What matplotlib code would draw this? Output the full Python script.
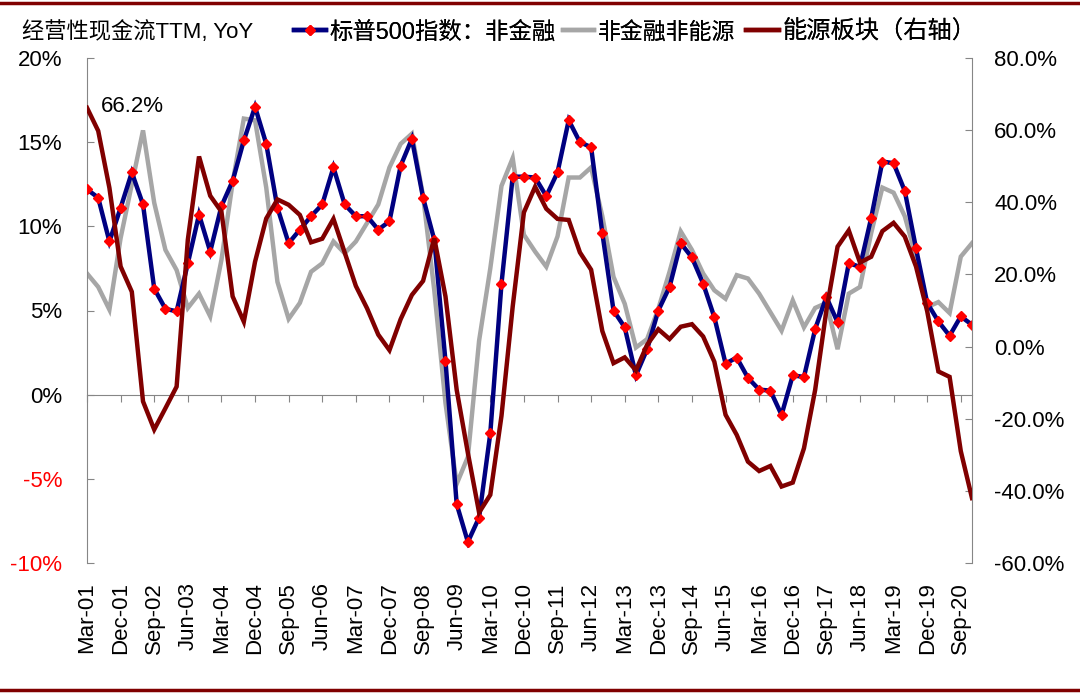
import matplotlib
matplotlib.use('Agg')
import matplotlib.pyplot as plt
from matplotlib.lines import Line2D
from matplotlib.ticker import FuncFormatter

plt.rcParams['font.family'] = ['Liberation Sans', 'Noto Sans CJK SC', 'DejaVu Sans']

# ---------------- data ----------------
tick_labels = ['Mar-01', 'Dec-01', 'Sep-02', 'Jun-03', 'Mar-04', 'Dec-04', 'Sep-05',
               'Jun-06', 'Mar-07', 'Dec-07', 'Sep-08', 'Jun-09', 'Mar-10', 'Dec-10',
               'Sep-11', 'Jun-12', 'Mar-13', 'Dec-13', 'Sep-14', 'Jun-15', 'Mar-16',
               'Dec-16', 'Sep-17', 'Jun-18', 'Mar-19', 'Dec-19', 'Sep-20']

sp500_nonfin = [12.2, 11.7, 9.1, 11.1, 13.2, 11.3, 6.3, 5.1, 4.95, 7.8, 10.7, 8.5, 11.2, 12.7, 15.1, 17.1, 14.9,
                11.1, 9.0, 9.8, 10.6, 11.3, 13.5, 11.3, 10.6, 10.6, 9.8, 10.3, 13.6, 15.2, 11.7, 9.2,
                2.0, -6.5, -8.75, -7.3, -2.3, 6.6, 12.95, 12.95, 12.9, 11.8, 13.2, 16.3, 15.0, 14.7, 9.6, 5.0, 4.0,
                1.15, 2.7, 5.0, 6.4, 9.0, 8.15, 6.6, 4.6, 1.85, 2.2, 1.0, 0.3, 0.24, -1.2, 1.15, 1.05,
                3.9, 5.8, 4.3, 7.8, 7.6, 10.5, 13.85, 13.75, 12.1, 8.7, 5.45, 4.35, 3.5, 4.65, 4.15]

nonfin_nonenergy = [7.2, 6.4, 5.05, 9.3, 12.5, 15.7, 11.4, 8.6, 7.4, 5.15, 6.0, 4.65, 8.0, 12.6, 16.4, 16.3, 12.3,
                    6.7, 4.5, 5.45, 7.3, 7.8, 9.1, 8.4, 9.1, 10.2, 11.3, 13.5, 14.9, 15.5, 11.8, 6.2,
                    -0.5, -5.3, -3.7, 3.2, 7.5, 12.4, 14.05, 9.5, 8.5, 7.6, 9.4, 12.9, 12.9, 13.5, 10.6, 7.0, 5.4,
                    2.8, 3.3, 5.1, 7.3, 9.7, 8.6, 7.2, 6.2, 5.7, 7.1, 6.9, 6.0, 4.9, 3.8, 5.6, 4.0,
                    5.15, 5.45, 2.7, 6.0, 6.4, 9.6, 12.3, 12.0, 10.6, 8.2, 5.2, 5.5, 4.85, 8.2, 9.0]

energy = [66.2, 59.8, 44.0, 22.2, 15.2, -15.2, -23.0, -17.1, -11.1, 29.6, 52.7, 41.8, 37.4, 13.9, 6.9, 23.5, 35.5,
          40.8, 39.3, 36.5, 28.9, 29.9, 35.4, 26.1, 16.8, 10.6, 3.3, -1.0, 7.6, 14.3, 18.2, 30.0,
          13.9, -12.0, -29.5, -46.0, -41.1, -19.2, 11.1, 37.2, 44.3, 38.2, 35.4, 35.1, 26.1, 21.3, 4.3, -4.6, -3.0,
          -6.6, 0.5, 4.8, 2.1, 5.5, 6.2, 2.8, -4.2, -18.9, -24.5, -31.9, -34.5, -33.1, -38.8, -37.7, -28.2,
          -12.0, 10.0, 27.7, 32.2, 23.3, 24.9, 32.0, 34.3, 30.5, 22.2, 9.8, -6.9, -8.4, -29.0, -42.0]

label_title = '经营性现金流TTM, YoY'
series_names = ['标普500指数：非金融', '非金融非能源', '能源板块（右轴）']
annot_text = '66.2%'

# ---------------- style ----------------
NAVY = '#000080'
GREY = '#A6A6A6'
DARKRED = '#800000'
AXGREY = '#868686'
FS = 16

x = list(range(len(sp500_nonfin)))
tick_pos = [3 * k for k in range(len(tick_labels))]

fig = plt.figure(figsize=(10.8, 6.97), dpi=100)
ax = fig.add_axes([87 / 1080, 1 - 563 / 697, (972 - 87) / 1080, (563 - 58) / 697])

ax.plot(x, nonfin_nonenergy, color=GREY, lw=3.2, zorder=2, solid_joinstyle='miter')
ax.plot(x, sp500_nonfin, color=NAVY, lw=3.2, zorder=3, marker='D', markersize=5.5,
        markerfacecolor='red', markeredgecolor='red', solid_joinstyle='miter')

ax.set_xlim(0, len(x) - 1)
ax.set_ylim(-10, 20)
ax.set_yticks([-10, -5, 0, 5, 10, 15, 20])
ax.yaxis.set_major_formatter(FuncFormatter(lambda v, p: f'{v:.0f}%'))
ax.tick_params(axis='y', direction='in', length=5, color=AXGREY, labelsize=FS, pad=18)
for lab in ax.get_yticklabels():
    try:
        val = float(lab.get_text().replace('%', '').replace('\u2212', '-'))
    except ValueError:
        val = 0
    if val < 0:
        lab.set_color('red')

for s in ['top', 'right']:
    ax.spines[s].set_visible(False)
ax.spines['left'].set_color(AXGREY)
ax.spines['bottom'].set_position(('data', 0))
ax.spines['bottom'].set_color(AXGREY)
ax.set_xticks(tick_pos)
ax.tick_params(axis='x', direction='out', length=5, color=AXGREY, labelbottom=False)

# tick labels at the bottom of the plot area
sec = ax.secondary_xaxis('bottom')
sec.set_xticks(tick_pos)
sec.set_xticklabels(tick_labels, rotation=90, fontsize=FS)
sec.tick_params(axis='x', length=0, pad=14)
sec.spines['bottom'].set_visible(False)

# right axis
ax2 = ax.twinx()
ax2.plot(x, energy, color=DARKRED, lw=3.2, zorder=4, solid_joinstyle='miter')
ax2.set_ylim(-60, 80)
ax2.set_yticks([-60, -40, -20, 0, 20, 40, 60, 80])
ax2.yaxis.set_major_formatter(FuncFormatter(lambda v, p: f'{v:.1f}%'))
ax2.tick_params(axis='y', direction='in', length=5, color=AXGREY, labelsize=FS, pad=16)
for s in ['top', 'left', 'bottom']:
    ax2.spines[s].set_visible(False)
ax2.spines['right'].set_color(AXGREY)
ax2.annotate(annot_text, xy=(1.25, 66.5), fontsize=FS, ha='left', va='center')

# title and legend entries (placed individually)
fig.text(22 / 1080, 1 - 32 / 697, label_title, fontsize=FS, ha='left', va='center')
handles = [Line2D([], [], color=NAVY, lw=3.2, marker='D', markersize=5.5,
                  markerfacecolor='red', markeredgecolor='red'),
           Line2D([], [], color=GREY, lw=3.2),
           Line2D([], [], color=DARKRED, lw=3.2)]
leg_x = [294, 563, 746]
leg_fs = [16.8, 16.5, 17.5]
for h, name, lx, lfs in zip(handles, series_names, leg_x, leg_fs):
    lg = fig.legend([h], [name], loc='center left', bbox_to_anchor=(lx / 1080, 1 - 32 / 697),
                    frameon=False, fontsize=lfs, handlelength=1.35, handletextpad=0.15,
                    borderaxespad=0, borderpad=0)
    fig.add_artist(lg)

# frame lines top and bottom
fig.add_artist(Line2D([0, 1], [1 - 2.5 / 697, 1 - 2.5 / 697], transform=fig.transFigure,
                      color=DARKRED, lw=2.5))
fig.add_artist(Line2D([0, 1], [1 - 690 / 697, 1 - 690 / 697], transform=fig.transFigure,
                      color=DARKRED, lw=2.5))

fig.savefig('out.png', dpi=100)
